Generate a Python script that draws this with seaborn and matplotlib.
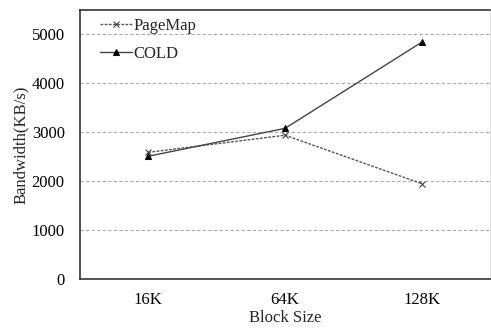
import pandas as pd
import matplotlib.pyplot as plt
import seaborn as sns

# Data
block_sizes = ["16K", "64K", "128K"]
pagemap = [2590, 2940, 1950]
cold = [2510, 3080, 4840]

sns.set_theme(style="white")
plt.rcParams['font.family'] = ['Liberation Serif', 'DejaVu Serif']

df = pd.DataFrame({
    "Block Size": block_sizes * 2,
    "Bandwidth": pagemap + cold,
    "Scheme": ["PageMap"] * 3 + ["COLD"] * 3,
})

fig = plt.figure(figsize=(4.91, 3.31), dpi=100)
ax = fig.add_axes([80 / 491, 52 / 331, 410 / 491, 269 / 331])

sns.lineplot(data=df[df["Scheme"] == "PageMap"], x="Block Size", y="Bandwidth",
             color="#555555", linestyle=(0, (2, 1)), linewidth=1, marker="x",
             markersize=5, markeredgewidth=0.8, markeredgecolor="#444444",
             label="PageMap", ax=ax, sort=False)
sns.lineplot(data=df[df["Scheme"] == "COLD"], x="Block Size", y="Bandwidth",
             color="#444444", linewidth=1, marker="^", markersize=5,
             markeredgecolor="black", markerfacecolor="black",
             label="COLD", ax=ax, sort=False)

ax.set_xlim(-0.5, 2.5)
ax.set_ylim(0, 5500)
ax.set_yticks([0, 1000, 2000, 3000, 4000, 5000])
ax.yaxis.grid(True, color="#aaaaaa", linestyle=(0, (3, 2)), linewidth=0.8)
ax.set_axisbelow(True)

for side in ["top", "left", "bottom"]:
    ax.spines[side].set_color("#333333")
    ax.spines[side].set_linewidth(1.2)
ax.spines["right"].set_color("#dddddd")
ax.spines["right"].set_linewidth(0.8)

ax.tick_params(axis="x", length=0, labelsize=12, pad=9, colors="black")
ax.tick_params(axis="y", length=0, labelsize=12, pad=11, colors="black")
ax.set_xlabel("Block Size", fontsize=12, labelpad=2)
ax.set_ylabel("Bandwidth(KB/s)", fontsize=12, labelpad=2)

ax.legend(loc="upper left", bbox_to_anchor=(0.02, 1.015), frameon=False,
          fontsize=12, handlelength=1.9, handletextpad=0.1, labelspacing=0.75,
          borderaxespad=0.3)

fig.savefig("out.png", dpi=100)
